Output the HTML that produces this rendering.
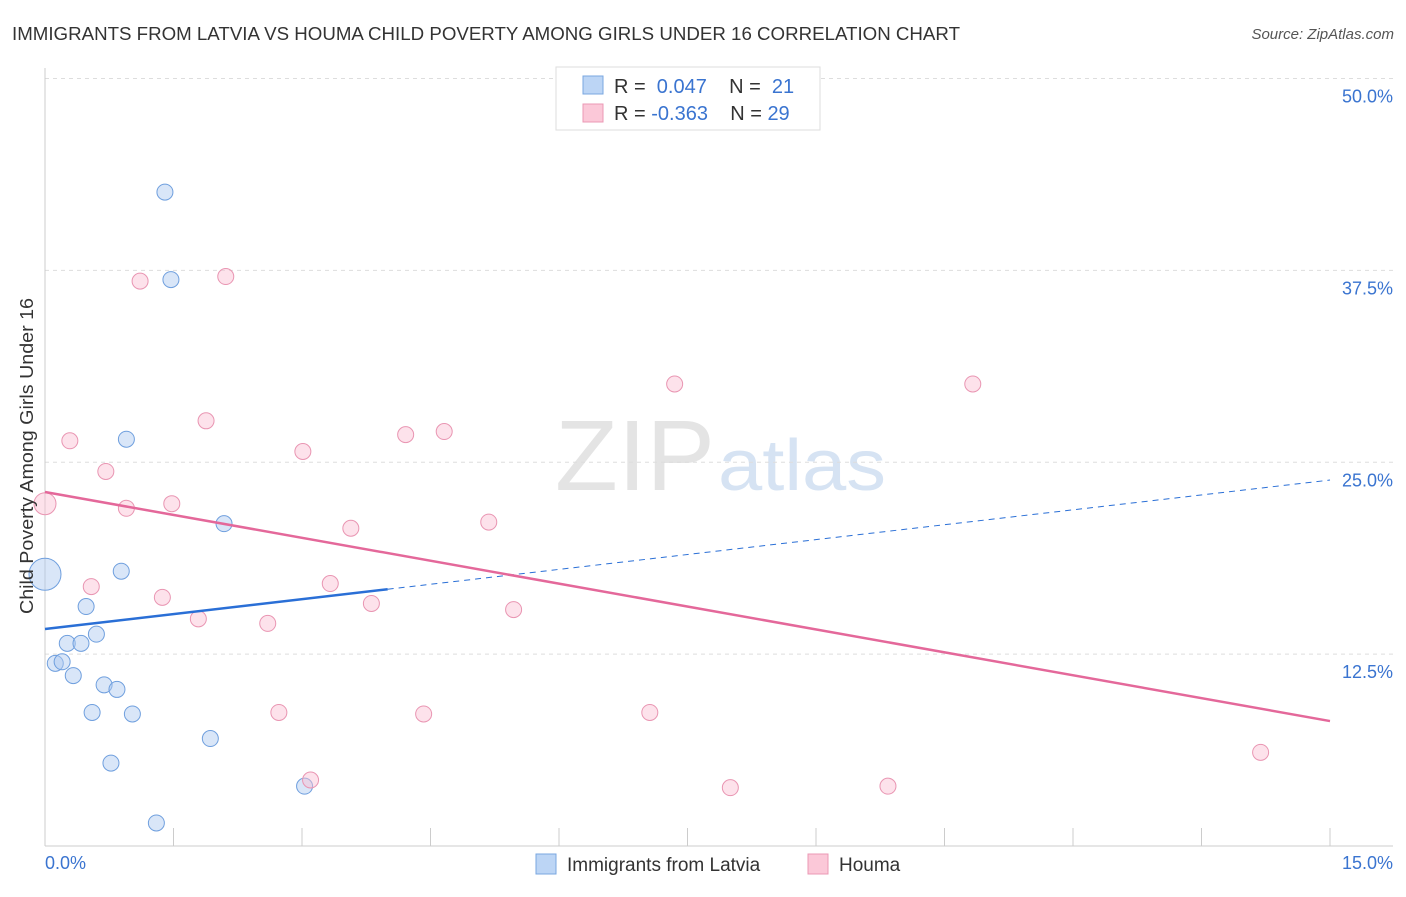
<!DOCTYPE html>
<html><head><meta charset="utf-8"><style>
body{margin:0;background:#fff;font-family:"Liberation Sans",sans-serif;}
svg text{font-family:"Liberation Sans",sans-serif;}
</style></head><body>
<svg id="c" width="1406" height="892" xmlns="http://www.w3.org/2000/svg">
<text x="12" y="40" font-size="18" fill="#333" textLength="948" lengthAdjust="spacingAndGlyphs">IMMIGRANTS FROM LATVIA VS HOUMA CHILD POVERTY AMONG GIRLS UNDER 16 CORRELATION CHART</text>
<text x="1394" y="39" font-size="15" fill="#555" text-anchor="end" font-style="italic">Source: ZipAtlas.com</text>
<text x="555" y="490" font-size="100" fill="#e4e4e4" textLength="160" lengthAdjust="spacingAndGlyphs" font-family="Liberation Serif">ZIP</text>
<text x="718" y="490" font-size="72" fill="#d6e3f3" textLength="168" lengthAdjust="spacingAndGlyphs">atlas</text>
<g id="grid"></g><g id="pts"></g><g id="lines"></g>
<text transform="translate(33,456) rotate(-90)" font-size="18" fill="#333" text-anchor="middle" textLength="316" lengthAdjust="spacingAndGlyphs">Child Poverty Among Girls Under 16</text>
<text x="45" y="869" font-size="18" fill="#3a74d0">0.0%</text>
<text x="1393" y="869" font-size="18" fill="#3a74d0" text-anchor="end">15.0%</text>
<g>
<rect x="556" y="67" width="264" height="63" fill="#fff" stroke="#ddd"/>
<rect x="583" y="76" width="20" height="18" fill="#bcd5f5" stroke="#7aa7e0"/>
<rect x="583" y="104" width="20" height="18" fill="#fbc8d8" stroke="#eb98b4"/>
<text x="614" y="93" font-size="20" fill="#333">R = <tspan fill="#3a74d0">&#160;0.047</tspan>&#160;&#160;&#160;&#160;N = <tspan fill="#3a74d0">&#160;21</tspan></text>
<text x="614" y="120" font-size="20" fill="#333">R = <tspan fill="#3a74d0">-0.363</tspan>&#160;&#160;&#160;&#160;N = <tspan fill="#3a74d0">29</tspan></text>
</g>
<g>
<rect x="536" y="854" width="20" height="20" fill="#bcd5f5" stroke="#7aa7e0"/>
<text x="567" y="871" font-size="19" fill="#333">Immigrants from Latvia</text>
<rect x="808" y="854" width="20" height="20" fill="#fbc8d8" stroke="#eb98b4"/>
<text x="839" y="871" font-size="19" fill="#333">Houma</text>
</g>
</svg>
<script>
const yTicks=[12.5,25,37.5,50];
const yTickLabels=["12.5%","25.0%","37.5%","50.0%"];
const blueX=[1.40,1.47,0.95,2.09,0.89,0.0,0.48,0.60,0.26,0.42,0.12,0.20,0.33,0.69,0.84,0.55,1.02,1.93,0.77,3.03,1.30];
const blueY=[42.6,36.9,26.5,21.0,17.9,17.7,15.6,13.8,13.2,13.2,11.9,12.0,11.1,10.5,10.2,8.7,8.6,7.0,5.4,3.9,1.5];
const pinkX=[1.11,2.11,0.29,1.88,0.71,0.95,1.48,0.0,3.01,4.21,4.66,7.35,10.83,5.18,3.57,0.54,1.37,3.33,3.81,5.47,1.79,2.60,2.73,4.42,7.06,3.10,8.00,9.84,14.19];
const pinkY=[36.8,37.1,26.4,27.7,24.4,22.0,22.3,22.3,25.7,26.8,27.0,30.1,30.1,21.1,20.7,16.9,16.2,17.1,15.8,15.4,14.8,14.5,8.7,8.6,8.7,4.3,3.8,3.9,6.1];
const blueTrend=[14.14,23.84];
const pinkTrend=[23.06,8.14];
const NS="http://www.w3.org/2000/svg";
const X=v=>45+v*85.667, Y=v=>846-v*15.35;
function mk(t,a,p){const e=document.createElementNS(NS,t);for(const k in a)e.setAttribute(k,a[k]);p.appendChild(e);return e;}
const g=document.getElementById('grid');
yTicks.forEach((t,i)=>{
 const l=mk('line',{x1:45,x2:1393,y1:Y(t),y2:Y(t),stroke:'#ddd','stroke-dasharray':'4,4'},g);
 
 
 const tx=mk('text',{x:1393,y:Y(t)+24,'font-size':18,fill:'#3a74d0','text-anchor':'end'},g);
 tx.textContent=yTickLabels[i];
 
 
});
mk('line',{x1:45,x2:45,y1:68,y2:846,stroke:'#ccc'},g);
mk('line',{x1:45,x2:1393,y1:846,y2:846,stroke:'#ccc'},g);
for(let i=0;i<=10;i++){const t=mk('line',{x1:X(i*1.5),x2:X(i*1.5),y1:828,y2:846,stroke:'#ccc'},g);
 
 }
const p=document.getElementById('pts');
blueX.forEach((x,i)=>{const c=mk('circle',{cx:X(x),cy:Y(blueY[i]),r:x===0?16:8,fill:'rgba(170,200,240,0.45)',stroke:'#6f9fde','stroke-width':1},p);
 
 });
pinkX.forEach((x,i)=>{const c=mk('circle',{cx:X(x),cy:Y(pinkY[i]),r:x===0?11:8,fill:'rgba(250,190,210,0.45)',stroke:'#e995b2','stroke-width':1},p);
 
 });
const L=document.getElementById('lines');
const bAt=v=>blueTrend[0]+(blueTrend[1]-blueTrend[0])*v/15;
let b1=mk('line',{x1:X(0),y1:Y(bAt(0)),x2:X(4),y2:Y(bAt(4)),stroke:'#2a6fd6','stroke-width':2.5},L);


let b2=mk('line',{x1:X(4),y1:Y(bAt(4)),x2:X(15),y2:Y(bAt(15)),stroke:'#2a6fd6','stroke-width':1,'stroke-dasharray':'6,5'},L);


let p1=mk('line',{x1:X(0),y1:Y(pinkTrend[0]),x2:X(15),y2:Y(pinkTrend[1]),stroke:'#e4689a','stroke-width':2.5},L);


</script>
</body></html>
